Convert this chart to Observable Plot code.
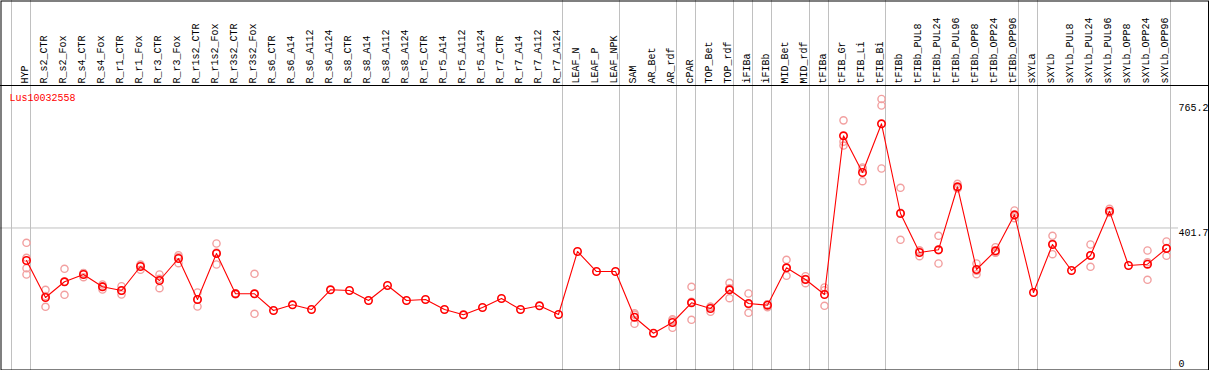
<!DOCTYPE html>
<html><head><meta charset="utf-8">
<script src="https://cdn.jsdelivr.net/npm/d3@7"></script>
<script src="https://cdn.jsdelivr.net/npm/@observablehq/plot@0.6"></script>
<style>body{margin:0;background:#fff} svg{display:block}</style>
</head><body><div id="chart"></div>
<script>
const gene = "Lus10032558";
const categories = ["HYP","R_s2_CTR","R_s2_Fox","R_s4_CTR","R_s4_Fox","R_r1_CTR","R_r1_Fox","R_r3_CTR","R_r3_Fox","R_r1s2_CTR","R_r1s2_Fox","R_r3s2_CTR","R_r3s2_Fox","R_s6_CTR","R_s6_A14","R_s6_A112","R_s6_A124","R_s8_CTR","R_s8_A14","R_s8_A112","R_s8_A124","R_r5_CTR","R_r5_A14","R_r5_A112","R_r5_A124","R_r7_CTR","R_r7_A14","R_r7_A112","R_r7_A124","LEAF_N","LEAF_P","LEAF_NPK","SAM","AR_Bet","AR_rdf","cPAR","TOP_Bet","TOP_rdf","iFIBa","iFIBb","MID_Bet","MID_rdf","tFIBa","tFIB_Gr","tFIB_Li","tFIB_Bi","tFIBb","tFIBb_PUL8","tFIBb_PUL24","tFIBb_PUL96","tFIBb_OPP8","tFIBb_OPP24","tFIBb_OPP96","sXYLa","sXYLb","sXYLb_PUL8","sXYLb_PUL24","sXYLb_PUL96","sXYLb_OPP8","sXYLb_OPP24","sXYLb_OPP96"];
const means = [310.0,205.8,250.0,270.6,235.9,225.5,293.1,253.7,315.7,200.1,329.8,216.2,216.2,169.1,185.2,171.9,227.5,225.5,197.3,239.6,197.3,200.1,171.9,157.0,177.6,202.9,171.9,182.4,157.8,335.4,279.0,279.0,150.2,105.1,135.3,190.8,174.7,227.5,188.8,184.0,289.5,256.5,214.2,661.5,558.1,695.3,442.5,332.6,340.2,517.8,284.7,337.4,438.8,219.8,355.1,281.9,324.1,449.0,295.9,299.6,343.9];
const replicates = [
  [359.9,317.6,288.3,270.6],[227.5,210,179.5],[286.6,250,213.4],[274.2,263,274.6],[242.4,237,228.3],
  [237.6,224.7,214.2],[298.8,296.7,283.8],[270.6,258.5,232],[325,319.7,302.4],[219.8,200.1,180.4],
  [358,332.6,298.8],[217.9,216,214.7],[272.5,216.3,159.8],[],[],
  [],[],[],[],[],
  [],[],[],[],[],
  [],[],[],[],[],
  [],[],[161.5,157.5,131.6],[],[144.6,141,120.4],
  [235.9,193.6,142.9],[165.4,179.4,179.3],[247.2,231.5,203.8],[217,186.8,162.6],[178.4,186.8,186.8],
  [312,289.6,266.9],[265.8,257.6,246.1],[233.9,226.3,182.4],[705,645,634],[568.5,572.3,533.5],
  [765.2,746.9,569.3],[514.9,444.2,368.4],[322.2,337.8,337.8],[379.7,339.3,301.6],[526.2,513.6,513.6],
  [301.6,281.1,271.4],[347.5,332.4,332.3],[451,436.1,429.3],[],[379.7,357.8,327.8],
  [],[355.1,324.9,292.3],[455.8,445.6,445.6],[],[338.2,305,255.6],
  [363.6,344.8,323.3]
];
const groupBreaks = [0,1,29,32,35,36,38,39,40,42,43,46,53,54,61];
const yTicks = [0, 401.7, 765.2];
const yMax = 765.2;

const W = 1209, H = 370;
const mTop = 85, mRight = 39, mBottom = 0, mLeft = 0;
const colW = 19, firstX = 26, breakOff = 15;
// y domain top chosen so that yMax sits just below the header
const yTopPx = 98.5;
const yDomainTop = yMax * (H - mBottom - mTop) / (H - mBottom - yTopPx);
const xDomain = [-firstX / colW, (W - mRight - firstX) / colW];

const rows = means.map((v, i) => ({i, v, name: categories[i]}));
const repRows = replicates.flatMap((arr, i) => arr.map(v => ({i, v})));

const red = "#ff0000", pale = "#f2a0a0", grid = "#c0c0c0";

const chart = Plot.plot({
  width: W, height: H,
  marginTop: mTop, marginRight: mRight, marginBottom: mBottom, marginLeft: mLeft,
  style: {fontFamily: "'Liberation Mono', 'DejaVu Sans Mono', monospace", fontSize: "10px", background: "#fff", color: "#000"},
  x: {type: "linear", domain: xDomain, axis: null},
  y: {domain: [0, yDomainTop], axis: null},
  marks: [
    Plot.ruleY([yTicks[1]], {stroke: grid, strokeWidth: 1, insetRight: -8}),
    Plot.ruleX(groupBreaks, {x: b => b - breakOff / colW, stroke: grid, strokeWidth: 1, insetTop: -mTop}),
    Plot.ruleY([yDomainTop], {stroke: "#000", strokeWidth: 1, insetRight: -mRight}),
    Plot.text(categories, {x: (d, i) => i, frameAnchor: "top", rotate: -90, textAnchor: "start", lineAnchor: "middle", dy: -2, dx: -1.5, fill: "#000"}),
    Plot.dot(repRows, {x: "i", y: "v", r: 3.6, stroke: pale, strokeWidth: 1.4, fill: "none"}),
    Plot.line(rows, {x: "i", y: "v", stroke: red, strokeWidth: 1.1}),
    Plot.dot(rows, {x: "i", y: "v", r: 3.7, stroke: red, strokeWidth: 1.6, fill: "none"}),
    Plot.text([gene], {frameAnchor: "top-left", dx: 9, dy: 8, fill: red, textAnchor: "start", lineAnchor: "top"}),
    Plot.text([yTicks[2]], {y: d => d, frameAnchor: "right", dx: 8, dy: 4.5, textAnchor: "start", lineAnchor: "top", text: d => String(d), fill: "#000"}),
    Plot.text([yTicks[1]], {y: d => d, frameAnchor: "right", dx: 8, dy: 0.5, textAnchor: "start", lineAnchor: "top", text: d => String(d), fill: "#000"}),
    Plot.text([yTicks[0]], {y: d => d, frameAnchor: "right", dx: 8, dy: -4, textAnchor: "start", lineAnchor: "bottom", text: d => String(d), fill: "#000"}),
    Plot.frame({stroke: "#000", strokeWidth: 1, insetTop: -mTop + 0.5, insetRight: -mRight + 1, insetLeft: 0.5, insetBottom: 0.5})
  ]
});
document.getElementById("chart").appendChild(chart);
</script>
</body></html>
